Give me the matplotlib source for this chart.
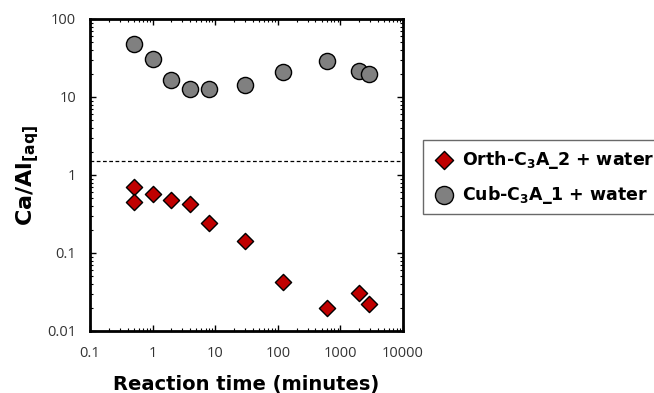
import matplotlib
matplotlib.use("Agg")
import matplotlib.pyplot as plt
from matplotlib.ticker import LogLocator, NullFormatter, FixedLocator, FixedFormatter

# Data
orth_time = [0.5, 0.5, 1, 2, 4, 8, 30, 120, 600, 2000, 2880]
orth_ratio = [0.695, 0.455, 0.57, 0.478, 0.429, 0.240, 0.144, 0.042, 0.0197, 0.0304, 0.022]
cub_time = [0.5, 1, 2, 4, 8, 30, 120, 600, 2000, 2880]
cub_ratio = [47.4, 31, 16.4, 12.8, 12.8, 14.3, 20.7, 29.2, 21.5, 19.7]
ref_level = 1.5
x_ticks = [0.1, 1, 10, 100, 1000, 10000]
x_labels = ["0.1", "1", "10", "100", "1000", "10000"]
y_ticks = [0.01, 0.1, 1, 10, 100]
y_labels = ["0.01", "0.1", "1", "10", "100"]

plt.rcParams['font.family'] = ['Open Sans', 'DejaVu Sans']
plt.rcParams['mathtext.fontset'] = 'dejavusans'

BOLD = ['DejaVu Sans']

fig = plt.figure(figsize=(6.54, 3.93), dpi=100)
ax = fig.add_axes([90/654, 1-331/393, (403-90)/654, (331-19)/393])

ax.set_xscale('log')
ax.set_yscale('log')
ax.set_xlim(0.1, 10000)
ax.set_ylim(0.01, 100)

ax.axhline(ref_level, color='black', linestyle=(0, (3, 2)), linewidth=0.9, zorder=1)

ax.scatter(orth_time, orth_ratio, marker='D', s=68, facecolor='#c00000',
           edgecolor='black', linewidth=1.0, zorder=3,
           label='Orth-C$_\\mathbf{3}$A_2 + water')
ax.scatter(cub_time, cub_ratio, marker='o', s=135, facecolor='#808080',
           edgecolor='black', linewidth=1.0, zorder=3,
           label='Cub-C$_\\mathbf{3}$A_1 + water')

ax.xaxis.set_major_locator(FixedLocator(x_ticks))
ax.xaxis.set_major_formatter(FixedFormatter(x_labels))
ax.yaxis.set_major_locator(FixedLocator(y_ticks))
ax.yaxis.set_major_formatter(FixedFormatter(y_labels))
ax.xaxis.set_minor_locator(LogLocator(base=10, subs=range(2, 10), numticks=20))
ax.yaxis.set_minor_locator(LogLocator(base=10, subs=range(2, 10), numticks=20))
ax.xaxis.set_minor_formatter(NullFormatter())
ax.yaxis.set_minor_formatter(NullFormatter())

ax.tick_params(which='both', direction='in', top=True, right=True, colors='black',
               labelcolor='#333333', labelsize=10.5)
ax.tick_params(which='major', length=4, width=1)
ax.tick_params(which='minor', length=2.5, width=0.8)
ax.tick_params(axis='x', pad=11)
ax.tick_params(axis='y', pad=10)

for sp in ax.spines.values():
    sp.set_linewidth(2)

ax.set_xlabel('Reaction time (minutes)', fontsize=14, fontweight='bold',
              family=BOLD, labelpad=10)
ax.set_ylabel('$\\mathbf{Ca/Al_{[aq]}}$', fontsize=16, labelpad=4)

leg = fig.legend(loc='upper left', bbox_to_anchor=(423/654, 1-140/393),
                 prop={'weight': 'bold', 'size': 12.5, 'family': BOLD},
                 frameon=True, fancybox=False, edgecolor='#444444',
                 handletextpad=0.33, borderpad=0.5, borderaxespad=0, labelspacing=0.75,
                 handlelength=1.4, markerscale=1.12)
leg.get_frame().set_linewidth(1.0)

fig.savefig('out.png', dpi=100)
